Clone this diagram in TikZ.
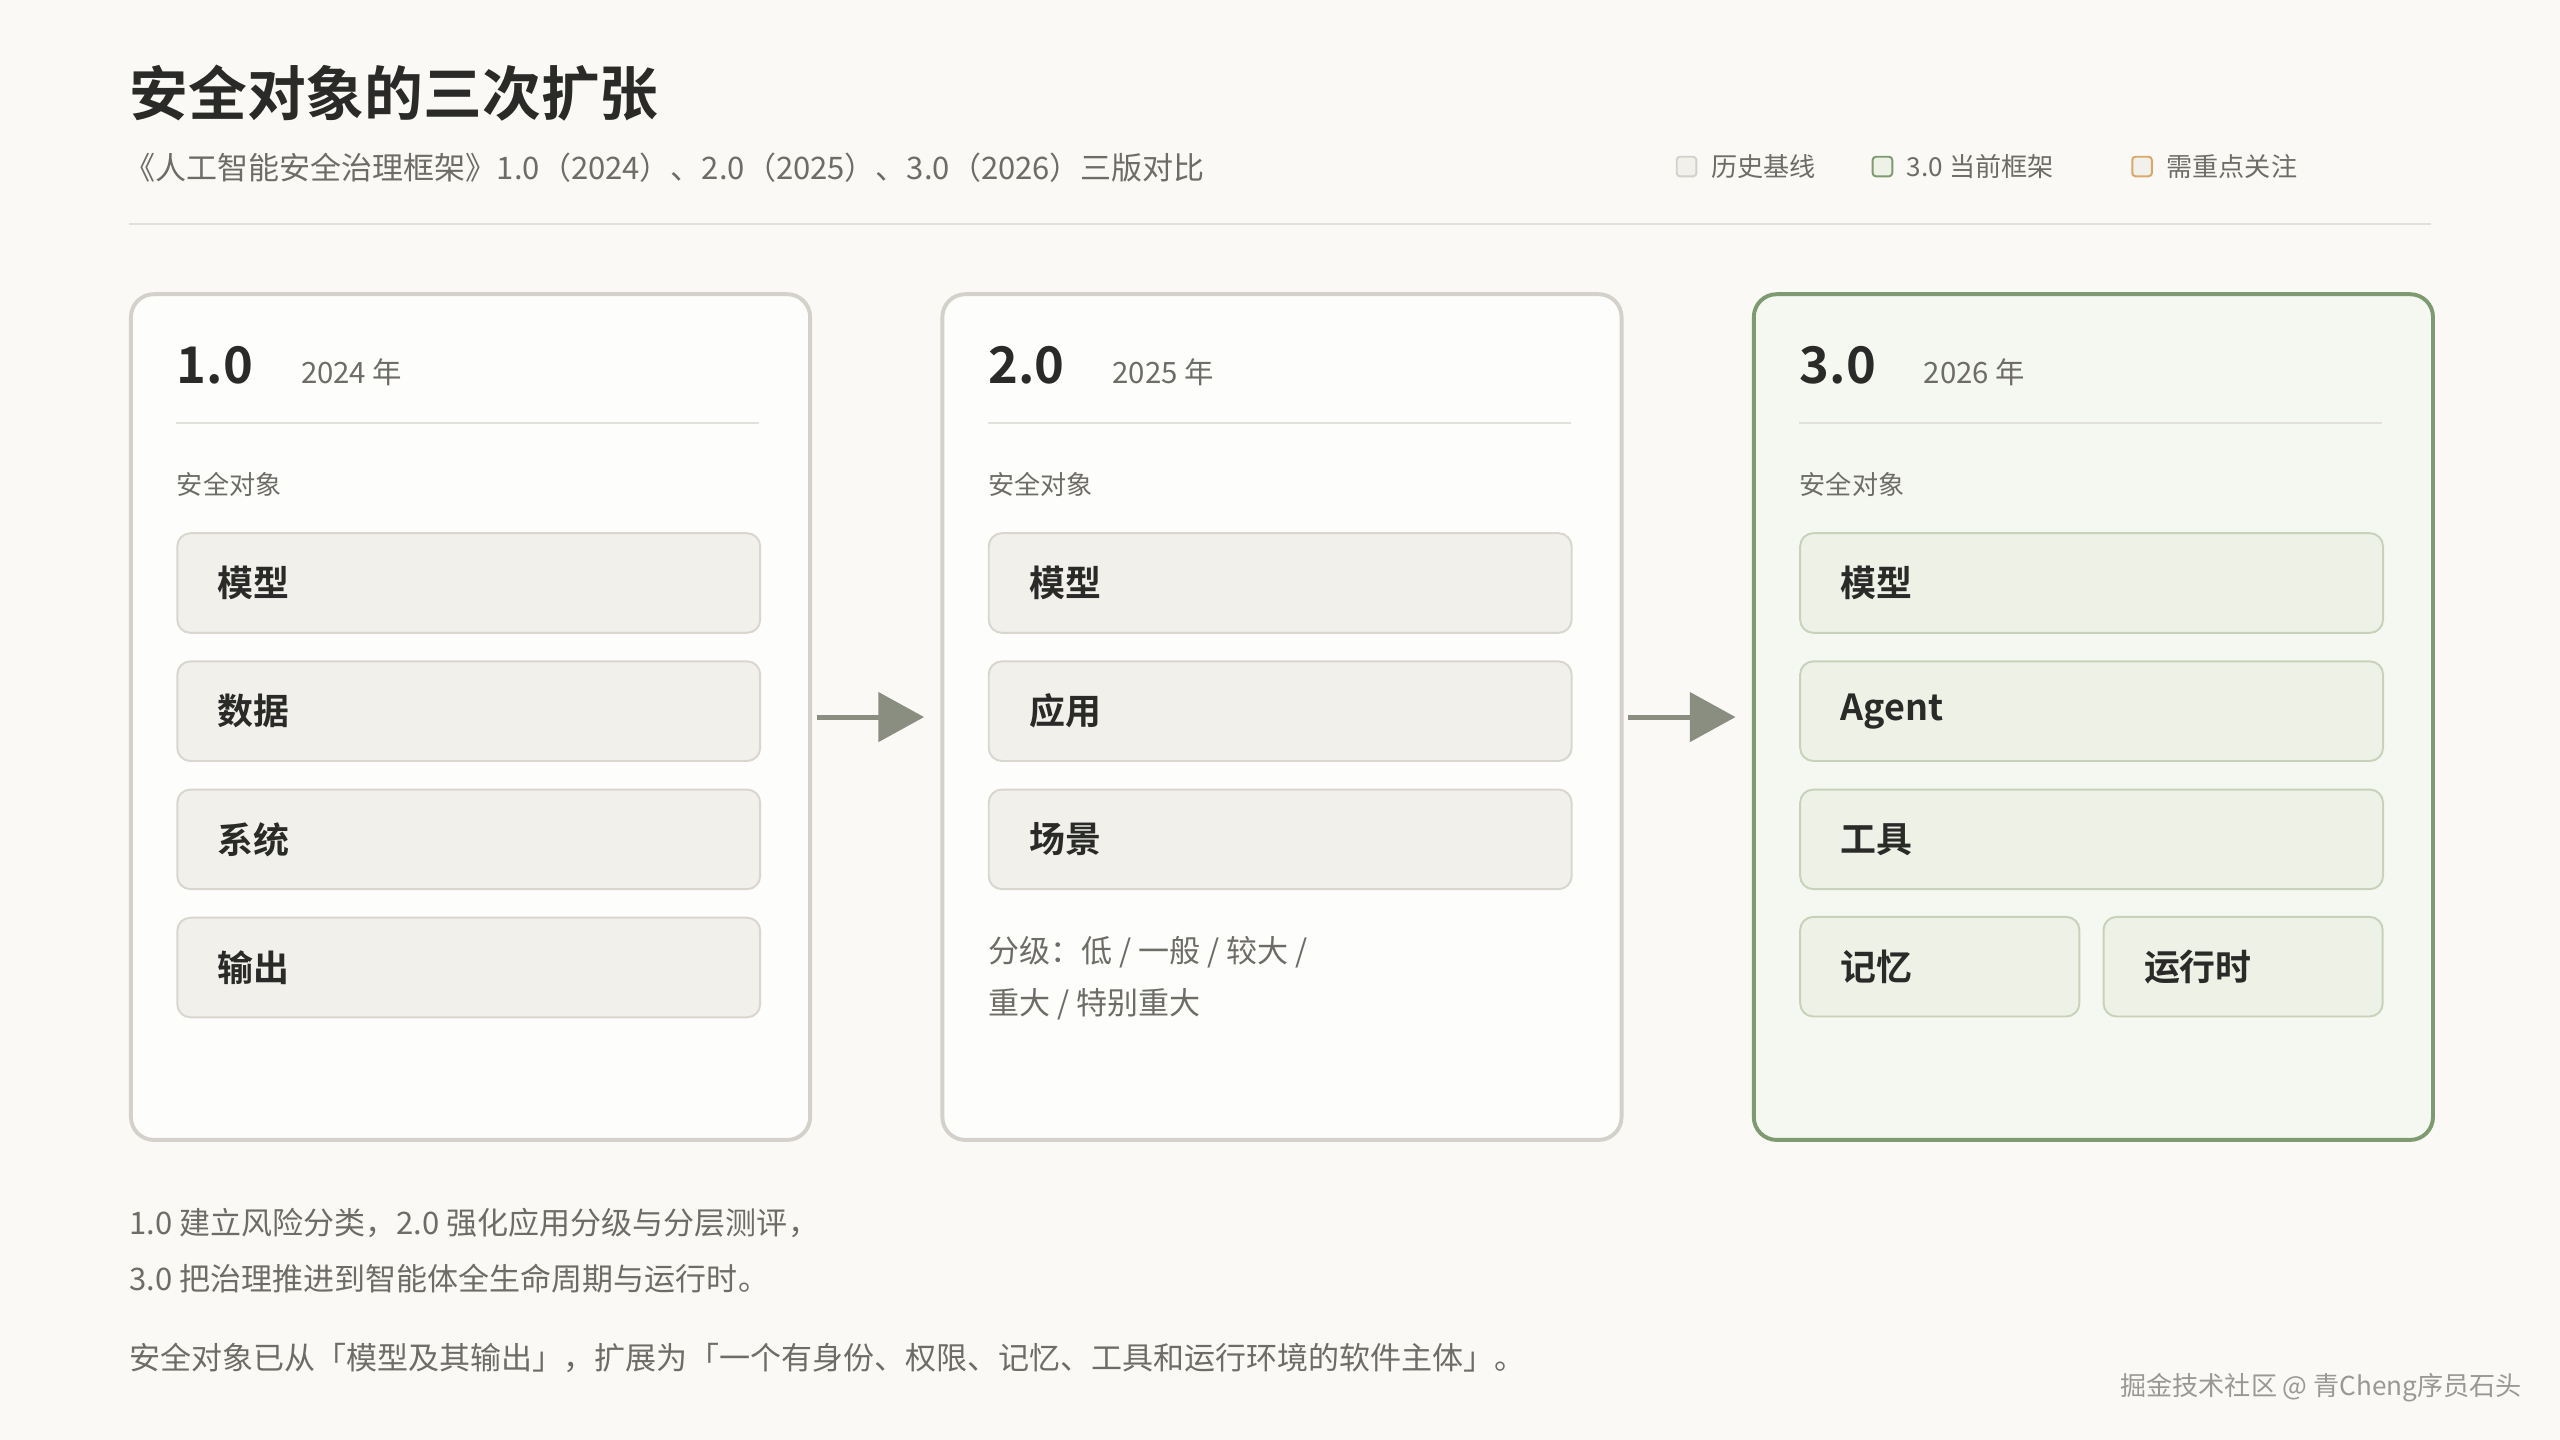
\documentclass[tikz,border=0pt]{standalone}
\usepackage{fontspec}
\setmainfont{Noto Sans CJK SC}[BoldFont={* Bold}]
\usetikzlibrary{arrows.meta,positioning}
\definecolor{bg}{HTML}{FAF9F6}
\definecolor{ink}{HTML}{2A2A28}
\definecolor{muted}{HTML}{6E6C66}
\definecolor{rulec}{HTML}{E2E0DA}
\definecolor{cardline}{HTML}{D4D1CA}
\definecolor{itemfill}{HTML}{F1F0EA}
\definecolor{itemline}{HTML}{D9D6CF}
\definecolor{greenline}{HTML}{7E9A70}
\definecolor{greenfill}{HTML}{F5F8F0}
\definecolor{gitemfill}{HTML}{EDF1E6}
\definecolor{gitemline}{HTML}{C8D2BB}
\definecolor{orangeline}{HTML}{D9A86A}
\definecolor{arrowc}{HTML}{8A8E80}
\tikzset{
  card/.style={draw=cardline, line width=1.2pt, fill=white!60!bg, rounded corners=7pt,
    minimum width=208pt, minimum height=259pt, inner sep=0pt},
  gcard/.style={card, draw=greenline, fill=greenfill},
  item/.style={draw=itemline, line width=0.6pt, fill=itemfill, rounded corners=4pt,
    minimum width=178.5pt, minimum height=30.5pt, inner sep=0pt},
  gitem/.style={item, draw=gitemline, fill=gitemfill},
  half/.style={gitem, minimum width=85.5pt},
  ilabel/.style={anchor=west, inner sep=0pt, font=\fontsize{11}{13}\selectfont\bfseries, text=ink},
  ver/.style={anchor=base west, inner sep=0pt, font=\fontsize{15.5}{18}\selectfont\bfseries, text=ink},
  year/.style={anchor=base west, inner sep=0pt, font=\fontsize{9}{11}\selectfont, text=muted},
  small/.style={anchor=west, inner sep=0pt, font=\fontsize{8}{10}\selectfont, text=muted},
  body/.style={anchor=west, inner sep=0pt, font=\fontsize{9.5}{12}\selectfont, text=muted},
  key/.style={draw=#1, line width=0.6pt, rounded corners=1pt, minimum size=6pt, inner sep=0pt},
  flow/.style={draw=arrowc, line width=1.5pt, -{Triangle[length=14pt,width=15pt]}}
}
\begin{document}
\begin{tikzpicture}[x=0.5pt, y=-0.5pt]
\fill[bg] (0,0) rectangle (1568,882);
\useasboundingbox (0,0) rectangle (1568,882);
% heading
\node[anchor=west, inner sep=0pt, font=\fontsize{18}{20}\selectfont\bfseries, text=ink] (title) at (79,57) {安全对象的三次扩张};
\node[body] (sub) at (76,103) {《人工智能安全治理框架》1.0（2024）、2.0（2025）、3.0（2026）三版对比};
% legend
\node[key=cardline, fill=itemfill] (k1) at (1033,102) {};
\node[small, right=4pt of k1] (k1t) {历史基线};
\node[key=greenline, fill=gitemfill] (k2) at (1153,102) {};
\node[small, right=4pt of k2] (k2t) {3.0 当前框架};
\node[key=orangeline, fill=itemfill] (k3) at (1312,102) {};
\node[small, right=4pt of k3] (k3t) {需重点关注};
\draw[rulec, line width=0.6pt] (79,137) -- (1489,137);
% cards
\node[card, anchor=north west] (c1) at (79,179) {};
\node[card, anchor=north west] (c2) at (576,179) {};
\node[gcard, anchor=north west] (c3) at (1073,179) {};
\foreach \c/\x/\v/\y in {c1/108/1.0/2024, c2/605/2.0/2025, c3/1102/3.0/2026}{
  \node[ver] (\c v) at (\x,235) {\v};
  \node[year] at (\x+76,235) {\y\ 年};
  \draw[rulec, line width=0.6pt] (\x,259) -- (\x+357,259);
  \node[small] at (\x,297) {安全对象};
}
% 1.0
\foreach \t [count=\i] in {模型,数据,系统,输出}{
  \node[item, anchor=north west] (a\i) at (108,326+78.5*\i-78.5) {};
  \node[ilabel] at ([xshift=12.5pt]a\i.west) {\t};
}
% 2.0
\foreach \t [count=\i] in {模型,应用,场景}{
  \node[item, anchor=north west] (b\i) at (605,326+78.5*\i-78.5) {};
  \node[ilabel] at ([xshift=12.5pt]b\i.west) {\t};
}
\node[body] (lv1) at (605,583) {分级：低 / 一般 / 较大 /};
\node[body] (lv2) at (605,615) {重大 / 特别重大};
% 3.0
\foreach \t [count=\i] in {模型,Agent,工具}{
  \node[gitem, anchor=north west] (g\i) at (1102,326+78.5*\i-78.5) {};
  \node[ilabel] at ([xshift=12.5pt]g\i.west) {\t};
}
\node[half, anchor=north west] (mem) at (1102,561) {};
\node[ilabel] at ([xshift=12.5pt]mem.west) {记忆};
\node[half, anchor=north east] (run) at (1460,561) {};
\node[ilabel] at ([xshift=12.5pt]run.west) {运行时};
% arrows
\draw[flow] ([xshift=1.5pt]c1.east) -- ([xshift=-5pt]c2.west);
\draw[flow] ([xshift=1.5pt]c2.east) -- ([xshift=-5pt]c3.west);
% notes
\node[body] (n1) at (79,749) {1.0 建立风险分类，2.0 强化应用分级与分层测评，};
\node[body] (n2) at (79,783) {3.0 把治理推进到智能体全生命周期与运行时。};
\node[body] (n3) at (79,832) {安全对象已从「模型及其输出」，扩展为「一个有身份、权限、记忆、工具和运行环境的软件主体」。};
\node[anchor=east, inner sep=0pt, font=\fontsize{8}{10}\selectfont, text=muted!70] (mark) at (1545,850) {掘金技术社区 @ 青Cheng序员石头};
\end{tikzpicture}
\end{document}
